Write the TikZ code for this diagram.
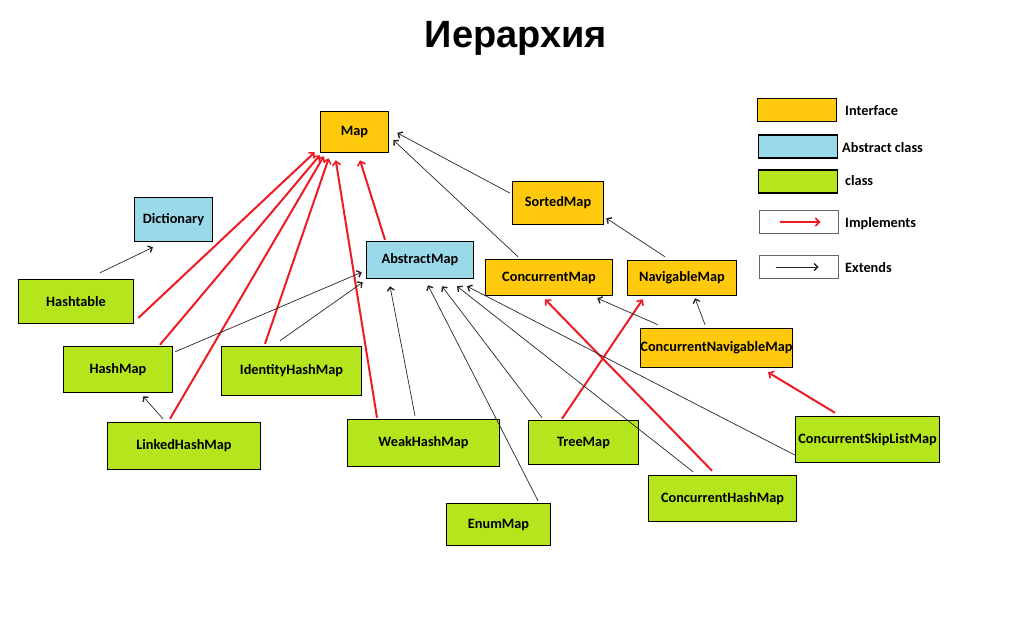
\documentclass[tikz,border=0pt]{standalone}
\usepackage{fontspec}
\setmainfont{Carlito}
\newfontfamily\titlefont{Liberation Sans}
\usetikzlibrary{arrows.meta,calc}
\definecolor{ifacecol}{HTML}{FFC90E}
\definecolor{abscol}{HTML}{99D9EA}
\definecolor{clscol}{HTML}{B5E61D}
\definecolor{implcol}{HTML}{ED1C24}

\begin{document}
\begin{tikzpicture}[x=1pt,y=-1pt,
  box/.style={draw,line width=1.5pt,inner sep=0pt,align=center,font=\bfseries\fontsize{14.3}{17}\selectfont},
  iface/.style={box,fill=ifacecol},
  absc/.style={box,fill=abscol},
  cls/.style={box,fill=clscol},
  legbox/.style={draw,minimum width=79pt,minimum height=23pt,inner sep=0pt},
  legtext/.style={anchor=base west,inner sep=0pt,font=\bfseries\fontsize{14.3}{17}\selectfont},
  impl/.style={-{Straight Barb[length=4pt,width=8pt,line width=1.6pt]},implcol,line width=2pt},
  ext/.style={-{Straight Barb[length=3.5pt,width=7pt,line width=1.4pt]},black!85,line width=0.7pt}
]
\useasboundingbox (0,0) rectangle (1024,638);

\node[anchor=base,inner sep=0pt,font=\titlefont\bfseries\fontsize{38}{40}\selectfont] (title) at (516,47) {Иерархия};

\node[iface,minimum width=68pt,minimum height=41pt] (map) at (354.5,132) {Map};
\node[absc,minimum width=78pt,minimum height=44pt] (dict) at (173.5,219.5) {Dictionary};
\node[cls,minimum width=115pt,minimum height=44pt] (hashtable) at (76,301.5) {Hashtable};
\node[cls,minimum width=109pt,minimum height=46pt] (hashmap) at (118,369.5) {HashMap};
\node[cls,minimum width=140pt,minimum height=49pt] (identity) at (291.5,371) {IdentityHashMap};
\node[cls,minimum width=153pt,minimum height=47pt] (linked) at (184,446) {LinkedHashMap};
\node[cls,minimum width=152pt,minimum height=47pt] (weak) at (423.5,443) {WeakHashMap};
\node[absc,minimum width=107pt,minimum height=37pt] (abstract) at (420,260) {AbstractMap};
\node[iface,minimum width=127pt,minimum height=36pt] (concmap) at (549,277.5) {ConcurrentMap};
\node[iface,minimum width=91pt,minimum height=43pt] (sorted) at (558,203) {SortedMap};
\node[iface,minimum width=109pt,minimum height=35pt] (navig) at (682,278) {NavigableMap};
\node[iface,minimum width=150pt,minimum height=39pt] (concnav) at (716.5,348) {ConcurrentNavigableMap};
\node[cls,minimum width=110pt,minimum height=44pt] (tree) at (583.5,442.5) {TreeMap};
\node[cls,minimum width=104pt,minimum height=42pt] (enum) at (498.5,524.5) {EnumMap};
\node[cls,minimum width=148pt,minimum height=46pt] (conchash) at (722.5,498.5) {ConcurrentHashMap};
\node[cls,minimum width=144pt,minimum height=46pt] (skip) at (867.5,439.5) {ConcurrentSkipListMap};

\node[legbox,fill=ifacecol,line width=1.5pt] (legint) at (797,110) {};
\node[legbox,fill=abscol,line width=1.5pt] (legabs) at (798,146.5) {};
\node[legbox,fill=clscol,line width=1.5pt] (legcls) at (798,181.5) {};
\node[legbox,draw=black!60,line width=1pt] (legimp) at (798.5,221.5) {};
\node[legbox,draw=black!60,line width=1pt] (legext) at (798.5,267) {};
\node[legtext] (txtint) at (845,115) {Interface};
\node[legtext] (txtabs) at (842,152) {Abstract class};
\node[legtext] (txtcls) at (845,185) {class};
\node[legtext] (txtimp) at (845,227) {Implements};
\node[legtext] (txtext) at (845,272) {Extends};
\draw[impl] ($(legimp.west)+(21,0.5)$) -- ($(legimp.east)+(-18,0.5)$);
\draw[ext,line width=1pt] ($(legext.west)+(17,0)$) -- ($(legext.east)+(-20,0)$);

\draw[impl] ($(hashtable.east)+(4,16.5)$) -- ($(map.south west)+(-5,-1)$);
\draw[impl] ($(hashmap.north)+(42,-1)$) -- ($(map.south west)+(0,2)$);
\draw[impl] ($(linked.north)+(-14,-3)$) -- ($(map.south west)+(4,3)$);
\draw[impl] ($(identity.north)+(-26.5,-2)$) -- ($(map.south west)+(9,5)$);
\draw[impl] ($(weak.north)+(-46.5,-1)$) -- ($(map.south west)+(16,7)$);
\draw[impl] ($(abstract.north)+(-35,-1)$) -- ($(map.south)+(5.5,7)$);
\draw[impl] ($(tree.north)+(-21.5,-1)$) -- ($(navig.south west)+(16,3)$);
\draw[impl] ($(conchash.north)+(-10.5,-4)$) -- ($(concmap.south)+(-4,3)$);
\draw[impl] ($(skip.north)+(-32.5,-3)$) -- ($(concnav.south)+(51.5,4)$);

\draw[ext] ($(hashtable.north)+(24,-6)$) -- ($(dict.south)+(-20.5,5)$);
\draw[ext] ($(hashmap.north east)+(2,6)$) -- ($(abstract.south west)+(-4,-7)$);
\draw[ext] ($(identity.north)+(-11.5,-5)$) -- ($(abstract.south west)+(-3,3)$);
\draw[ext] ($(linked.north)+(-21,-3)$) -- ($(hashmap.south)+(25,3)$);
\draw[ext] ($(weak.north)+(-8.5,-3)$) -- ($(abstract.south)+(-30,7)$);
\draw[ext] ($(enum.north)+(39.5,-2)$) -- ($(abstract.south)+(8,6)$);
\draw[ext] ($(tree.north)+(-41.5,-2)$) -- ($(abstract.south)+(22,7)$);
\draw[ext] ($(conchash.north)+(-29.5,-3)$) -- ($(abstract.south)+(37,7)$);
\draw[ext] ($(skip.west)+(0,15.5)$) -- ($(abstract.south)+(47,7)$);
\draw[ext] ($(sorted.west)+(-2,-10)$) -- ($(map.east)+(8,1)$);
\draw[ext] ($(concmap.north)+(-31,-2)$) -- ($(map.east)+(4,8)$);
\draw[ext] ($(navig.north)+(-17,-3)$) -- ($(sorted.south east)+(2,-7)$);
\draw[ext] ($(concnav.north)+(-58.5,-3)$) -- ($(concmap.south east)+(-16,2)$);
\draw[ext] ($(concnav.north)+(-11.5,-3)$) -- ($(navig.south)+(13,2)$);
\end{tikzpicture}
\end{document}
